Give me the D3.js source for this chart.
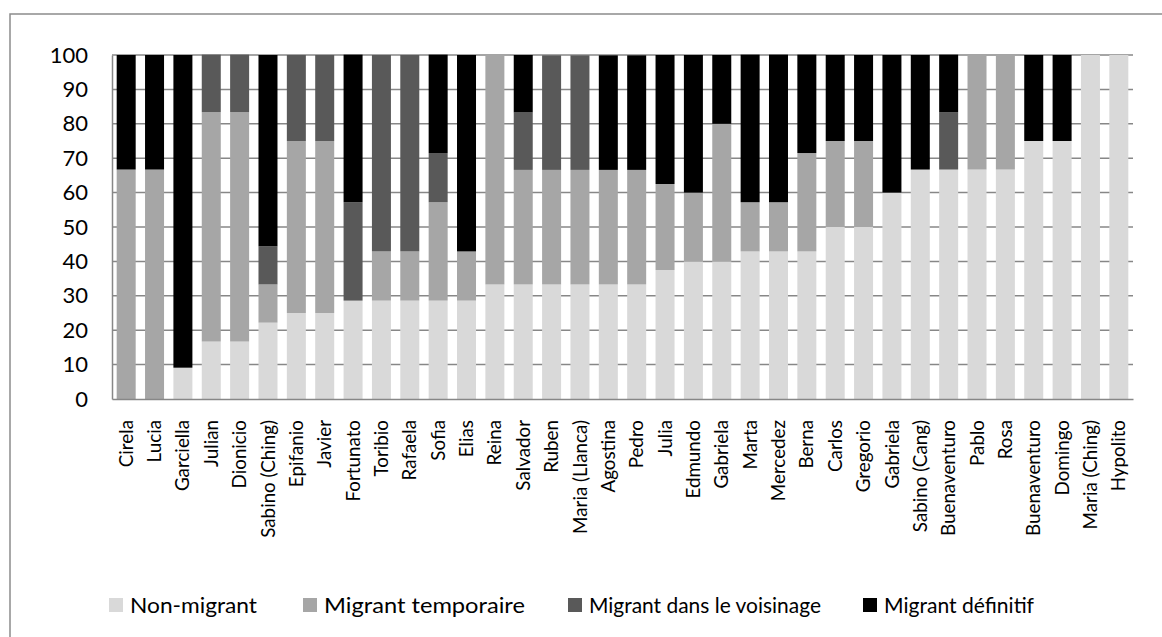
<!DOCTYPE html>
<html><head><meta charset="utf-8">
<script src="https://cdn.jsdelivr.net/npm/d3@7"></script>
<style>body{margin:0;background:#fff;} svg{display:block;font-family:Lato, "Open Sans", sans-serif;}</style>
</head><body>
<svg id="c" width="1162" height="637"></svg>
<script>
const categories = ["Cirela","Lucia","Garciella","Julian","Dionicio","Sabino (Ching)","Epifanio","Javier","Fortunato","Toribio","Rafaela","Sofia","Elias","Reina","Salvador","Ruben","Maria (Llanca)","Agostina","Pedro","Julia","Edmundo","Gabriela","Marta","Mercedez","Berna","Carlos","Gregorio","Gabriela","Sabino (Cang)","Buenaventuro","Pablo","Rosa","Buenaventuro","Domingo","Maria (Ching)","Hypolito"];
const nonMigrant = [0,0,9.1,16.7,16.7,22.2,25,25,28.6,28.6,28.6,28.6,28.6,33.3,33.3,33.3,33.3,33.3,33.3,37.5,40,40,42.9,42.9,42.9,50,50,60,66.7,66.7,66.7,66.7,75,75,100,100];
const temporaire = [66.7,66.7,0,66.7,66.7,11.1,50,50,0,14.3,14.3,28.6,14.3,66.7,33.3,33.3,33.3,33.3,33.3,25,20,40,14.3,14.3,28.6,25,25,0,0,0,33.3,33.3,0,0,0,0];
const voisinage = [0,0,0,16.7,16.7,11.1,25,25,28.6,57.1,57.1,14.3,0,0,16.7,33.3,33.3,0,0,0,0,0,0,0,0,0,0,0,0,16.7,0,0,0,0,0,0];
const definitif = [33.3,33.3,90.9,0,0,55.6,0,0,42.9,0,0,28.6,57.1,0,16.7,0,0,33.3,33.3,37.5,40,20,42.9,42.9,28.6,25,25,40,33.3,16.7,0,0,25,25,0,0];
const seriesNames = ["Non-migrant","Migrant temporaire","Migrant dans le voisinage","Migrant définitif"];
const seriesColors = ["#d9d9d9","#a6a6a6","#595959","#000000"];
const yTicks = [0,10,20,30,40,50,60,70,80,90,100];

const svg = d3.select("#c");
// outer frame
svg.append("rect").attr("x",10).attr("y",14).attr("width",1170).attr("height",640)
  .attr("fill","none").attr("stroke","#8c8c8c").attr("stroke-width",1.5);

const m = {l:112, r:1133, t:55, b:399};
const idx = d3.range(categories.length);
const x = d3.scaleBand().domain(idx).range([m.l,m.r]).paddingInner(0.33).paddingOuter(0.165);
const y = d3.scaleLinear().domain([0,100]).range([m.b,m.t]);

const table = idx.map(i => ({i, s0:nonMigrant[i], s1:temporaire[i], s2:voisinage[i], s3:definitif[i]}));
const stack = d3.stack().keys(["s0","s1","s2","s3"])(table);

// gridlines
svg.append("g").selectAll("line").data(yTicks.filter(d=>d>0)).join("line")
  .attr("x1",m.l).attr("x2",m.r).attr("y1",d=>y(d)).attr("y2",d=>y(d))
  .attr("stroke","#878787").attr("stroke-width",1.5);

// bars
svg.append("g").selectAll("g").data(stack).join("g").attr("fill",(d,k)=>seriesColors[k])
  .selectAll("rect").data(d=>d).join("rect")
  .attr("x",d=>x(d.data.i)).attr("width",x.bandwidth())
  .attr("y",d=>y(d[1])).attr("height",d=>Math.max(0,y(d[0])-y(d[1])));

// y axis
const ya = svg.append("g").attr("transform",`translate(${m.l},0)`)
  .call(d3.axisLeft(y).tickValues(yTicks).tickSize(0).tickPadding(24));
ya.select(".domain").attr("stroke","#878787").attr("stroke-width",1.5);
ya.selectAll("text").attr("font-size",22).attr("fill","#000").attr("font-family","Lato");

// x axis
const xa = svg.append("g").attr("transform",`translate(0,${m.b})`)
  .call(d3.axisBottom(x).tickSize(0).tickFormat(i=>categories[i]));
xa.select(".domain").attr("stroke","#878787").attr("stroke-width",1.5);
xa.selectAll("text").attr("font-size",18.8).attr("fill","#000").attr("font-family","Lato")
  .attr("transform","rotate(-90)").attr("text-anchor","end").attr("dy","0.35em")
  .attr("x",-21).attr("y",0);

// legend
const legX = [109,303,568,863];
const legW = [127,201,232,150];
const lg = svg.append("g").selectAll("g").data(seriesNames).join("g")
  .attr("transform",(d,k)=>`translate(${legX[k]},598)`);
lg.append("rect").attr("width",14).attr("height",14).attr("fill",(d,k)=>seriesColors[k]);
lg.append("text").attr("x",21).attr("y",15).attr("font-size",22).attr("fill","#000")
  .attr("textLength",(d,k)=>legW[k]).attr("lengthAdjust","spacingAndGlyphs").text(d=>d);
</script>
</body></html>
